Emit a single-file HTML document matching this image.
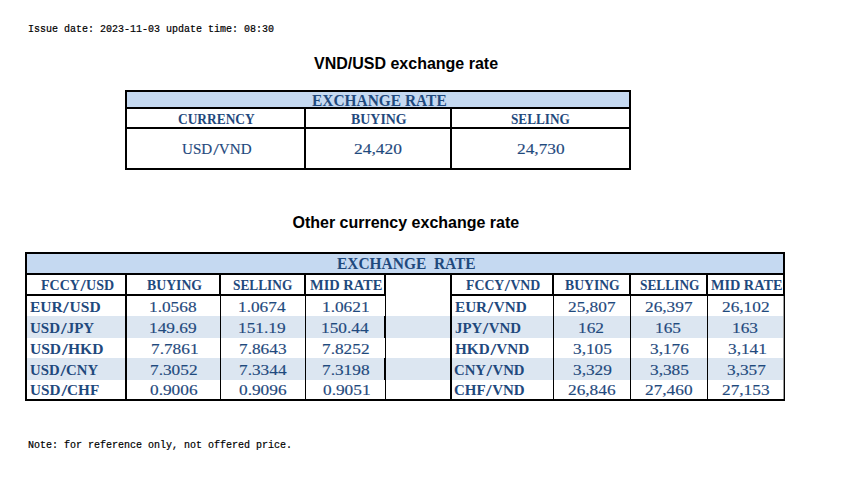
<!DOCTYPE html>
<html><head><meta charset="utf-8"><title>Exchange rate</title><style>
html,body{margin:0;padding:0;background:#fff;}
body{width:842px;height:479px;position:relative;overflow:hidden;}
.l{position:absolute;background:#000;}
.f{position:absolute;}
.t{position:absolute;white-space:nowrap;line-height:20px;transform-origin:0 0;}
.s{display:inline-block;transform:scale(1.35,1.2);transform-origin:50% 40%;margin:0 1.2px;}
</style></head><body>
<div class="f" style="left:127px;top:92px;width:502px;height:15px;background:#C5D9F1"></div>
<div class="l" style="left:125px;top:90px;width:506px;height:2px"></div>
<div class="l" style="left:125px;top:168px;width:506px;height:2px"></div>
<div class="l" style="left:125px;top:90px;width:2px;height:80px"></div>
<div class="l" style="left:629px;top:90px;width:2px;height:80px"></div>
<div class="l" style="left:125px;top:107px;width:506px;height:2px"></div>
<div class="l" style="left:125px;top:127px;width:506px;height:2px"></div>
<div class="l" style="left:304px;top:107px;width:2px;height:63px"></div>
<div class="l" style="left:450px;top:107px;width:2px;height:63px"></div>
<div class="f" style="left:27px;top:254px;width:756px;height:19px;background:#C5D9F1"></div>
<div class="f" style="left:27px;top:316px;width:756px;height:22px;background:#DCE6F1"></div>
<div class="f" style="left:27px;top:358px;width:756px;height:22px;background:#DCE6F1"></div>
<div class="l" style="left:25px;top:252px;width:760px;height:2px"></div>
<div class="l" style="left:25px;top:399px;width:760px;height:2px"></div>
<div class="l" style="left:25px;top:252px;width:2px;height:149px"></div>
<div class="l" style="left:783px;top:252px;width:2px;height:44px"></div>
<div class="l" style="left:784px;top:296px;width:1px;height:105px"></div>
<div class="f" style="left:783px;top:296px;width:1px;height:103px;background:#9a9a9a"></div>
<div class="l" style="left:25px;top:273px;width:760px;height:2px"></div>
<div class="l" style="left:25px;top:294px;width:361px;height:2px"></div>
<div class="l" style="left:450px;top:294px;width:335px;height:2px"></div>
<div class="l" style="left:125px;top:273px;width:2px;height:23px"></div>
<div class="l" style="left:219px;top:273px;width:2px;height:23px"></div>
<div class="l" style="left:304px;top:273px;width:2px;height:23px"></div>
<div class="l" style="left:384px;top:273px;width:2px;height:23px"></div>
<div class="l" style="left:450px;top:273px;width:2px;height:23px"></div>
<div class="l" style="left:552px;top:273px;width:2px;height:23px"></div>
<div class="l" style="left:629px;top:273px;width:2px;height:23px"></div>
<div class="l" style="left:706px;top:273px;width:2px;height:23px"></div>
<div class="l" style="left:125px;top:296px;width:2px;height:103px"></div>
<div class="l" style="left:450px;top:296px;width:2px;height:103px"></div>
<div class="l" style="left:220px;top:296px;width:1px;height:103px"></div>
<div class="l" style="left:305px;top:296px;width:1px;height:103px"></div>
<div class="l" style="left:385px;top:296px;width:1px;height:103px"></div>
<div class="l" style="left:553px;top:296px;width:1px;height:103px"></div>
<div class="l" style="left:630px;top:296px;width:1px;height:103px"></div>
<div class="l" style="left:707px;top:296px;width:1px;height:103px"></div>
<div class="l" style="left:384px;top:316px;width:2px;height:22px"></div>
<div class="l" style="left:384px;top:358px;width:2px;height:22px"></div>
<div class="t" style="left:314.00px;top:54.00px;font-family:'Liberation Sans',sans-serif;font-weight:bold;font-size:16px;color:#000;">VND/USD exchange rate</div>
<div class="t" style="left:292.45px;top:213.00px;font-family:'Liberation Sans',sans-serif;font-weight:bold;font-size:16px;color:#000;">Other currency exchange rate</div>
<div class="t" style="left:28.00px;top:18.29px;font-family:'Liberation Mono',monospace;font-size:10px;color:#000;-webkit-text-stroke:0.2px #000;transform:scale(1.0000,1.1429);">Issue date: 2023-11-03 update time: 08:30</div>
<div class="t" style="left:28.00px;top:433.99px;font-family:'Liberation Mono',monospace;font-size:10px;color:#000;-webkit-text-stroke:0.2px #000;transform:scale(1.0000,1.1429);">Note: for reference only, not offered price.</div>
<div class="t" style="left:312.04px;top:91.00px;font-family:'Liberation Serif',serif;font-weight:bold;font-size:16px;color:#1F497D;transform:scale(0.9638,1.0000);">EXCHANGE RATE</div>
<div class="t" style="left:178.09px;top:109.00px;font-family:'Liberation Serif',serif;font-weight:bold;font-size:14.67px;color:#1F497D;transform:scale(0.9146,1.0000);">CURRENCY</div>
<div class="t" style="left:351.02px;top:109.00px;font-family:'Liberation Serif',serif;font-weight:bold;font-size:14.67px;color:#1F497D;transform:scale(0.9494,1.0000);">BUYING</div>
<div class="t" style="left:511.14px;top:109.00px;font-family:'Liberation Serif',serif;font-weight:bold;font-size:14.67px;color:#1F497D;transform:scale(0.9035,1.0000);">SELLING</div>
<div class="t" style="left:181.95px;top:139.00px;font-family:'Liberation Serif',serif;font-size:14.67px;color:#1F497D;-webkit-text-stroke:0.15px #1F497D;transform:scale(1.0296,1.0000);">USD<span class="s">/</span>VND</div>
<div class="t" style="left:354.34px;top:139.00px;font-family:'Liberation Serif',serif;font-size:14.67px;color:#1F497D;-webkit-text-stroke:0.15px #1F497D;transform:scale(1.1877,1.0000);">24,420</div>
<div class="t" style="left:517.44px;top:139.00px;font-family:'Liberation Serif',serif;font-size:14.67px;color:#1F497D;-webkit-text-stroke:0.15px #1F497D;transform:scale(1.1824,1.0000);">24,730</div>
<div class="t" style="left:337.04px;top:254.00px;font-family:'Liberation Serif',serif;font-weight:bold;font-size:16px;color:#1F497D;transform:scale(0.9648,1.0000);">EXCHANGE&nbsp; RATE</div>
<div class="t" style="left:40.82px;top:275.00px;font-family:'Liberation Serif',serif;font-weight:bold;font-size:14.67px;color:#1F497D;transform:scale(0.9549,1.0000);">FCCY<span class="s">/</span>USD</div>
<div class="t" style="left:147.06px;top:275.00px;font-family:'Liberation Serif',serif;font-weight:bold;font-size:14.67px;color:#1F497D;transform:scale(0.9394,1.0000);">BUYING</div>
<div class="t" style="left:233.12px;top:275.00px;font-family:'Liberation Serif',serif;font-weight:bold;font-size:14.67px;color:#1F497D;transform:scale(0.9100,1.0000);">SELLING</div>
<div class="t" style="left:310.22px;top:275.00px;font-family:'Liberation Serif',serif;font-weight:bold;font-size:14.67px;color:#1F497D;transform:scale(0.9859,1.0000);">MID RATE</div>
<div class="t" style="left:465.81px;top:275.00px;font-family:'Liberation Serif',serif;font-weight:bold;font-size:14.67px;color:#1F497D;transform:scale(0.9414,1.0000);">FCCY<span class="s">/</span>VND</div>
<div class="t" style="left:564.68px;top:275.00px;font-family:'Liberation Serif',serif;font-weight:bold;font-size:14.67px;color:#1F497D;transform:scale(0.9340,1.0000);">BUYING</div>
<div class="t" style="left:639.67px;top:275.00px;font-family:'Liberation Serif',serif;font-weight:bold;font-size:14.67px;color:#1F497D;transform:scale(0.9129,1.0000);">SELLING</div>
<div class="t" style="left:711.29px;top:275.00px;font-family:'Liberation Serif',serif;font-weight:bold;font-size:14.67px;color:#1F497D;transform:scale(0.9728,1.0000);">MID RATE</div>
<div class="t" style="left:29.56px;top:297.00px;font-family:'Liberation Serif',serif;font-weight:bold;font-size:14.67px;color:#1F497D;transform:scale(1.0586,1.0000);">EUR<span class="s">/</span>USD</div>
<div class="t" style="left:454.99px;top:297.00px;font-family:'Liberation Serif',serif;font-weight:bold;font-size:14.67px;color:#1F497D;transform:scale(1.0370,1.0000);">EUR<span class="s">/</span>VND</div>
<div class="t" style="left:149.40px;top:297.00px;font-family:'Liberation Serif',serif;font-size:14.67px;color:#1F497D;-webkit-text-stroke:0.15px #1F497D;transform:scale(1.1800,1.0000);">1.0568</div>
<div class="t" style="left:238.40px;top:297.00px;font-family:'Liberation Serif',serif;font-size:14.67px;color:#1F497D;-webkit-text-stroke:0.15px #1F497D;transform:scale(1.1800,1.0000);">1.0674</div>
<div class="t" style="left:322.00px;top:297.00px;font-family:'Liberation Serif',serif;font-size:14.67px;color:#1F497D;-webkit-text-stroke:0.15px #1F497D;transform:scale(1.1800,1.0000);">1.0621</div>
<div class="t" style="left:568.20px;top:297.00px;font-family:'Liberation Serif',serif;font-size:14.67px;color:#1F497D;-webkit-text-stroke:0.15px #1F497D;transform:scale(1.1800,1.0000);">25,807</div>
<div class="t" style="left:645.20px;top:297.00px;font-family:'Liberation Serif',serif;font-size:14.67px;color:#1F497D;-webkit-text-stroke:0.15px #1F497D;transform:scale(1.1800,1.0000);">26,397</div>
<div class="t" style="left:722.00px;top:297.00px;font-family:'Liberation Serif',serif;font-size:14.67px;color:#1F497D;-webkit-text-stroke:0.15px #1F497D;transform:scale(1.1800,1.0000);">26,102</div>
<div class="t" style="left:29.58px;top:318.00px;font-family:'Liberation Serif',serif;font-weight:bold;font-size:14.67px;color:#1F497D;transform:scale(1.0248,1.0000);">USD<span class="s">/</span>JPY</div>
<div class="t" style="left:454.98px;top:318.00px;font-family:'Liberation Serif',serif;font-weight:bold;font-size:14.67px;color:#1F497D;transform:scale(1.0159,1.0000);">JPY<span class="s">/</span>VND</div>
<div class="t" style="left:149.40px;top:318.00px;font-family:'Liberation Serif',serif;font-size:14.67px;color:#1F497D;-webkit-text-stroke:0.15px #1F497D;transform:scale(1.1800,1.0000);">149.69</div>
<div class="t" style="left:238.40px;top:318.00px;font-family:'Liberation Serif',serif;font-size:14.67px;color:#1F497D;-webkit-text-stroke:0.15px #1F497D;transform:scale(1.1800,1.0000);">151.19</div>
<div class="t" style="left:321.00px;top:318.00px;font-family:'Liberation Serif',serif;font-size:14.67px;color:#1F497D;-webkit-text-stroke:0.15px #1F497D;transform:scale(1.1800,1.0000);">150.44</div>
<div class="t" style="left:578.20px;top:318.00px;font-family:'Liberation Serif',serif;font-size:14.67px;color:#1F497D;-webkit-text-stroke:0.15px #1F497D;transform:scale(1.1800,1.0000);">162</div>
<div class="t" style="left:655.20px;top:318.00px;font-family:'Liberation Serif',serif;font-size:14.67px;color:#1F497D;-webkit-text-stroke:0.15px #1F497D;transform:scale(1.1800,1.0000);">165</div>
<div class="t" style="left:732.00px;top:318.00px;font-family:'Liberation Serif',serif;font-size:14.67px;color:#1F497D;-webkit-text-stroke:0.15px #1F497D;transform:scale(1.1800,1.0000);">163</div>
<div class="t" style="left:29.55px;top:339.00px;font-family:'Liberation Serif',serif;font-weight:bold;font-size:14.67px;color:#1F497D;transform:scale(1.0605,1.0000);">USD<span class="s">/</span>HKD</div>
<div class="t" style="left:454.99px;top:339.00px;font-family:'Liberation Serif',serif;font-weight:bold;font-size:14.67px;color:#1F497D;transform:scale(1.0372,1.0000);">HKD<span class="s">/</span>VND</div>
<div class="t" style="left:151.40px;top:339.00px;font-family:'Liberation Serif',serif;font-size:14.67px;color:#1F497D;-webkit-text-stroke:0.15px #1F497D;transform:scale(1.1800,1.0000);">7.7861</div>
<div class="t" style="left:239.40px;top:339.00px;font-family:'Liberation Serif',serif;font-size:14.67px;color:#1F497D;-webkit-text-stroke:0.15px #1F497D;transform:scale(1.1800,1.0000);">7.8643</div>
<div class="t" style="left:322.00px;top:339.00px;font-family:'Liberation Serif',serif;font-size:14.67px;color:#1F497D;-webkit-text-stroke:0.15px #1F497D;transform:scale(1.1800,1.0000);">7.8252</div>
<div class="t" style="left:572.70px;top:339.00px;font-family:'Liberation Serif',serif;font-size:14.67px;color:#1F497D;-webkit-text-stroke:0.15px #1F497D;transform:scale(1.1800,1.0000);">3,105</div>
<div class="t" style="left:649.70px;top:339.00px;font-family:'Liberation Serif',serif;font-size:14.67px;color:#1F497D;-webkit-text-stroke:0.15px #1F497D;transform:scale(1.1800,1.0000);">3,176</div>
<div class="t" style="left:727.50px;top:339.00px;font-family:'Liberation Serif',serif;font-size:14.67px;color:#1F497D;-webkit-text-stroke:0.15px #1F497D;transform:scale(1.1800,1.0000);">3,141</div>
<div class="t" style="left:29.60px;top:360.00px;font-family:'Liberation Serif',serif;font-weight:bold;font-size:14.67px;color:#1F497D;transform:scale(1.0077,1.0000);">USD<span class="s">/</span>CNY</div>
<div class="t" style="left:453.99px;top:360.00px;font-family:'Liberation Serif',serif;font-weight:bold;font-size:14.67px;color:#1F497D;transform:scale(1.0075,1.0000);">CNY<span class="s">/</span>VND</div>
<div class="t" style="left:150.40px;top:360.00px;font-family:'Liberation Serif',serif;font-size:14.67px;color:#1F497D;-webkit-text-stroke:0.15px #1F497D;transform:scale(1.1800,1.0000);">7.3052</div>
<div class="t" style="left:239.40px;top:360.00px;font-family:'Liberation Serif',serif;font-size:14.67px;color:#1F497D;-webkit-text-stroke:0.15px #1F497D;transform:scale(1.1800,1.0000);">7.3344</div>
<div class="t" style="left:322.00px;top:360.00px;font-family:'Liberation Serif',serif;font-size:14.67px;color:#1F497D;-webkit-text-stroke:0.15px #1F497D;transform:scale(1.1800,1.0000);">7.3198</div>
<div class="t" style="left:572.70px;top:360.00px;font-family:'Liberation Serif',serif;font-size:14.67px;color:#1F497D;-webkit-text-stroke:0.15px #1F497D;transform:scale(1.1800,1.0000);">3,329</div>
<div class="t" style="left:649.70px;top:360.00px;font-family:'Liberation Serif',serif;font-size:14.67px;color:#1F497D;-webkit-text-stroke:0.15px #1F497D;transform:scale(1.1800,1.0000);">3,385</div>
<div class="t" style="left:726.50px;top:360.00px;font-family:'Liberation Serif',serif;font-size:14.67px;color:#1F497D;-webkit-text-stroke:0.15px #1F497D;transform:scale(1.1800,1.0000);">3,357</div>
<div class="t" style="left:29.57px;top:380.00px;font-family:'Liberation Serif',serif;font-weight:bold;font-size:14.67px;color:#1F497D;transform:scale(1.0370,1.0000);">USD<span class="s">/</span>CHF</div>
<div class="t" style="left:453.99px;top:380.00px;font-family:'Liberation Serif',serif;font-weight:bold;font-size:14.67px;color:#1F497D;transform:scale(1.0223,1.0000);">CHF<span class="s">/</span>VND</div>
<div class="t" style="left:150.40px;top:380.00px;font-family:'Liberation Serif',serif;font-size:14.67px;color:#1F497D;-webkit-text-stroke:0.15px #1F497D;transform:scale(1.1800,1.0000);">0.9006</div>
<div class="t" style="left:239.40px;top:380.00px;font-family:'Liberation Serif',serif;font-size:14.67px;color:#1F497D;-webkit-text-stroke:0.15px #1F497D;transform:scale(1.1800,1.0000);">0.9096</div>
<div class="t" style="left:323.00px;top:380.00px;font-family:'Liberation Serif',serif;font-size:14.67px;color:#1F497D;-webkit-text-stroke:0.15px #1F497D;transform:scale(1.1800,1.0000);">0.9051</div>
<div class="t" style="left:568.20px;top:380.00px;font-family:'Liberation Serif',serif;font-size:14.67px;color:#1F497D;-webkit-text-stroke:0.15px #1F497D;transform:scale(1.1800,1.0000);">26,846</div>
<div class="t" style="left:645.20px;top:380.00px;font-family:'Liberation Serif',serif;font-size:14.67px;color:#1F497D;-webkit-text-stroke:0.15px #1F497D;transform:scale(1.1800,1.0000);">27,460</div>
<div class="t" style="left:722.00px;top:380.00px;font-family:'Liberation Serif',serif;font-size:14.67px;color:#1F497D;-webkit-text-stroke:0.15px #1F497D;transform:scale(1.1800,1.0000);">27,153</div>
</body></html>
